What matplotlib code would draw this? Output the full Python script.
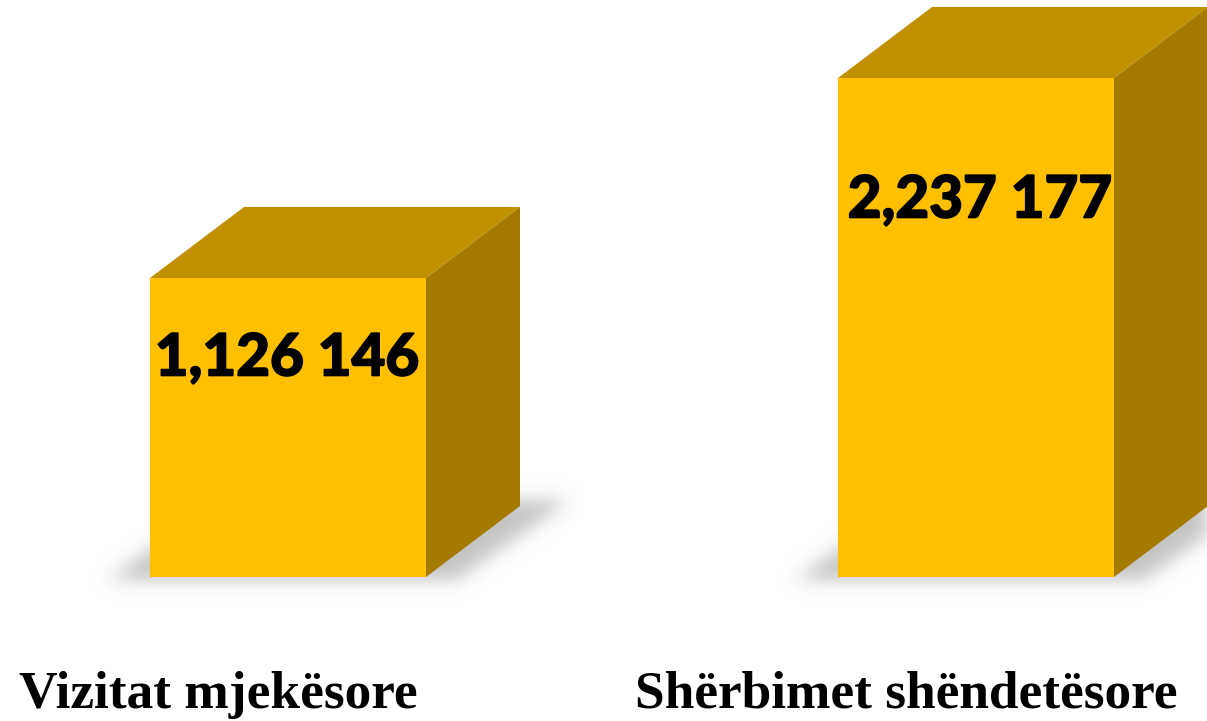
import numpy as np
import matplotlib
matplotlib.use("Agg")
import matplotlib.pyplot as plt
import matplotlib.patheffects as pe
from matplotlib.patches import Polygon
from matplotlib.path import Path

categories = ["Vizitat mjekësore", "Shërbimet shëndetësore"]
values = [1126146, 2237177]
value_labels = ["1,126 146", "2,237 177"]

W, H = 1207, 721
BASE_PX = 577
CENTERS_PX = [288, 976]
BAR_W_PX = 276
DX_PX, DY_PX = 94, 71
TOP_PX = [278, 78]
VAL_PER_PX = (values[1] - values[0]) / (TOP_PX[0] - TOP_PX[1])
v0 = values[0] - (BASE_PX - TOP_PX[0]) * VAL_PER_PX
PX_PER_X = CENTERS_PX[1] - CENTERS_PX[0]

fig = plt.figure(figsize=(W / 100, H / 100), dpi=100, facecolor="white")
ax = fig.add_axes([0, 0, 1, 1])
ax.set_xlim(-CENTERS_PX[0] / PX_PER_X, (W - CENTERS_PX[0]) / PX_PER_X)
ax.set_ylim(v0 - (H - BASE_PX) * VAL_PER_PX, v0 + BASE_PX * VAL_PER_PX)
ax.axis("off")

bw = BAR_W_PX / PX_PER_X
dx = DX_PX / PX_PER_X
dy = DY_PX * VAL_PER_PX
FRONT, TOP, SIDE = "#FFC000", "#C09000", "#A47A00"
label_offset_y_px = [81, 123]
label_offset_x_px = [-1, 4]


def blurred_shadow(x0, x1):
    """Soft grey floor shadow, computed on a pixel grid in data space."""
    xs = np.linspace(*ax.get_xlim(), W)
    ys = np.linspace(ax.get_ylim()[1], ax.get_ylim()[0], H)
    gx, gy = np.meshgrid(xs, ys)
    u = VAL_PER_PX
    p = PX_PER_X
    poly = Path([
        (x0 - 42 / p, v0 - 3 * u),
        (x1 + 30 / p, v0 - 3 * u),
        (x1 + dx + 50 / p, v0 + (DY_PX + 6) * u),
        (x0 + 70 / p, v0 + (DY_PX + 6) * u),
    ])
    m = poly.contains_points(np.c_[gx.ravel(), gy.ravel()]).reshape(gx.shape).astype(float)
    k = np.exp(-0.5 * (np.arange(-30, 31) / 9.0) ** 2)
    k /= k.sum()
    m = np.apply_along_axis(lambda r: np.convolve(r, k, mode="same"), 0, m)
    m = np.apply_along_axis(lambda r: np.convolve(r, k, mode="same"), 1, m)
    rgba = np.zeros(m.shape + (4,))
    rgba[..., :3] = 0.6
    rgba[..., 3] = np.clip(m * 0.58, 0, 1)
    ax.imshow(rgba, extent=[*ax.get_xlim(), *ax.get_ylim()], origin="upper",
              aspect="auto", zorder=1, interpolation="bilinear")


xlim, ylim = ax.get_xlim(), ax.get_ylim()
for i, (cat, val, lab) in enumerate(zip(categories, values, value_labels)):
    x0, x1 = i - bw / 2, i + bw / 2
    blurred_shadow(x0, x1)
    ax.set_xlim(xlim)
    ax.set_ylim(ylim)
    ax.bar(i, val - v0, bottom=v0, width=bw, color=FRONT, zorder=3, linewidth=0)
    ax.add_patch(Polygon([(x0, val), (x0 + dx, val + dy), (x1 + dx, val + dy), (x1, val)],
                         closed=True, fc=TOP, ec="none", zorder=2))
    ax.add_patch(Polygon([(x1, val), (x1 + dx, val + dy), (x1 + dx, v0 + dy), (x1, v0)],
                         closed=True, fc=SIDE, ec="none", zorder=2))
    ax.text(i + label_offset_x_px[i] / PX_PER_X, val - label_offset_y_px[i] * VAL_PER_PX, lab,
            ha="center", va="center", family="Lato", weight="black", fontsize=42,
            color="black", zorder=4,
            path_effects=[pe.withStroke(linewidth=1.2, foreground="black")])

ax.text(218 / W, 1 - 695 / H, categories[0], transform=ax.transAxes, ha="center", va="center",
        family="Liberation Serif", weight="bold", fontsize=38.4, color="black")
ax.text(906 / W, 1 - 695 / H, categories[1], transform=ax.transAxes, ha="center", va="center",
        family="Liberation Serif", weight="bold", fontsize=38.4, color="black")

fig.savefig("out.png", dpi=100)
